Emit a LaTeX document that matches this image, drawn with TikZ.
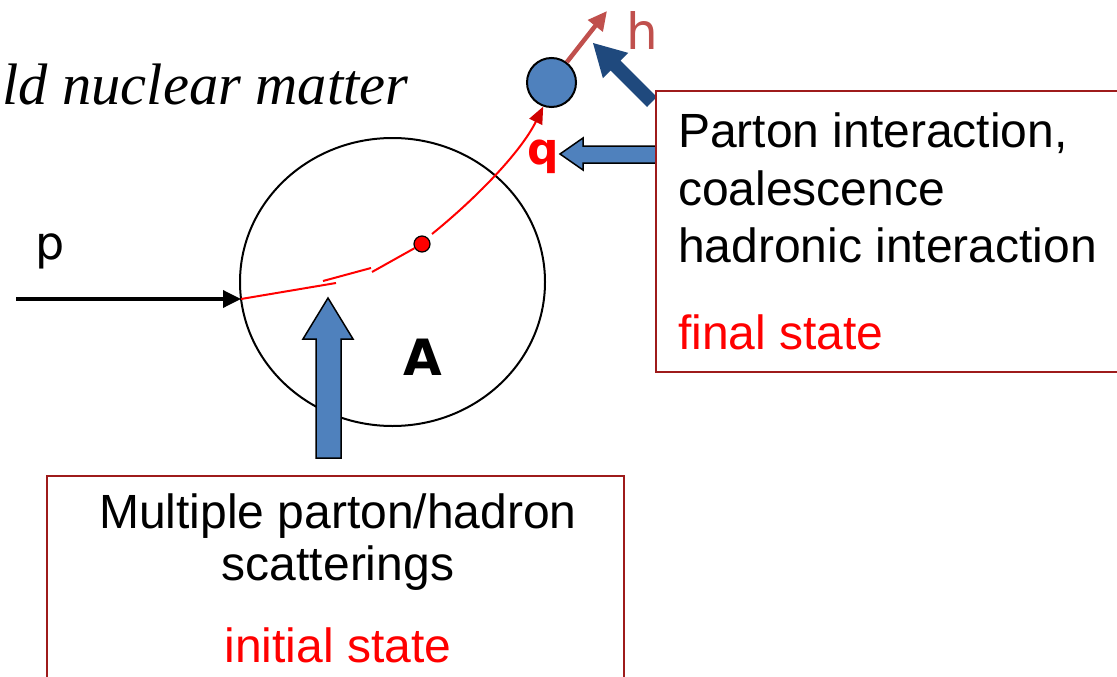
\documentclass[tikz,border=0pt]{standalone}
\usepackage{fontspec}
\setmainfont{Liberation Sans}
\newfontfamily\serifit{Liberation Serif}
\newfontfamily\lab{DejaVu Sans}
\usetikzlibrary{shapes.geometric,arrows.meta}
\definecolor{lblue}{HTML}{4F81BD}
\definecolor{dblue}{HTML}{1F497D}
\definecolor{hred}{HTML}{C0504D}
\definecolor{boxred}{HTML}{9E1B1B}
\definecolor{arrred}{HTML}{D00000}
\begin{document}
\begin{tikzpicture}[x=1pt,y=-1pt,
  boxtxt/.style={inner sep=0pt, font=\fontsize{48}{57}\selectfont},
  infobox/.style={draw=boxred, line width=2pt, fill=white},
  blockarrow/.style={fill=lblue, draw=black, line width=1.5pt, line join=miter},
  track/.style={draw=red, line width=2pt},
  labtxt/.style={inner sep=0pt, font=\lab\fontsize{46}{50}\selectfont}]
\useasboundingbox (0,0) rectangle (1117,677);

% nucleus
\node[draw, ellipse, line width=2pt, inner sep=0pt, minimum width=305pt, minimum height=288pt] (nuc) at (392.5,282) {};
\coordinate (entry) at (241,299);
\coordinate (pstart) at (16,299);
\draw[line width=3.5pt, -{Triangle[length=18pt,width=17pt]}] (pstart) -- (entry);

% red track
\coordinate (t1) at (336,283);
\coordinate (t2a) at (323,281);
\coordinate (t2b) at (371,268);
\coordinate (t3a) at (372,272);
\coordinate (t4a) at (432,234);
\node[circle, draw=black, fill=red, line width=1.2pt, inner sep=0pt, minimum size=16pt] (dot) at (422,244) {};
\draw[track] (entry) -- (t1);
\draw[track] (t2a) -- (t2b);
\draw[track] (t3a) -- (dot);

% outgoing hadron ball
\node[circle, draw=black, fill=lblue, line width=2pt, inner sep=0pt, minimum size=49pt] (ball) at (551.5,82.5) {};
\draw[track, -{Triangle[length=17pt,width=14pt,color=arrred]}] (t4a) .. controls (480,195) and (522,150) .. (ball.251);
\coordinate (htip) at (607,11);
\draw[hred, line width=4.5pt, -{Triangle[length=19pt,width=18pt]}] (ball.53) -- (htip);

% block arrows
\draw[blockarrow] (316,458) -- (316,339) -- (303,339) -- (328,298) -- (353,339) -- (341,339) -- (341,458) -- cycle;
\fill[dblue] (656.9,97) -- (620.5,60.7) -- (628.3,52.9) -- (593,43) -- (602.9,78.3) -- (610.7,70.5) -- (647,107) -- cycle;
\draw[blockarrow] (660,146) -- (583,146) -- (583,138) -- (560,154) -- (583,170) -- (583,163) -- (660,163) -- cycle;

% boxes
\draw[infobox] (656,91) rectangle (1130,372);
\draw[infobox] (47,476) rectangle (624,700);

% texts
\node[boxtxt, anchor=base west] (f1) at (678,147) {Parton interaction,};
\node[boxtxt, anchor=base west] (f2) at (678,205) {coalescence};
\node[boxtxt, anchor=base west] (f3) at (678,262) {hadronic interaction};
\node[boxtxt, anchor=base west, text=red] (f4) at (678,349) {final state};

\node[boxtxt, anchor=base] (i1) at (338,528) {Multiple parton/hadron};
\node[boxtxt, anchor=base] (i2) at (338,580) {scatterings};
\node[boxtxt, anchor=base, text=red] (i3) at (338,662) {initial state};

\node[inner sep=0pt, anchor=base west, font=\serifit\itshape\fontsize{58.5}{68}\selectfont] (cnm) at (2,105) {ld nuclear matter};

\node[labtxt, anchor=base west] (plab) at (35,259) {p};
\node[labtxt, anchor=base, text=red, font=\lab\bfseries\fontsize{44}{48}\selectfont] (qlab) at (543,164) {q};
\node[labtxt, anchor=base, text=hred, font=\lab\fontsize{50}{55}\selectfont] (hlab) at (642,50) {h};
\node[labtxt, anchor=base, font=\lab\bfseries\fontsize{50}{58}\selectfont] (alab) at (423,375) {A};
\end{tikzpicture}
\end{document}
